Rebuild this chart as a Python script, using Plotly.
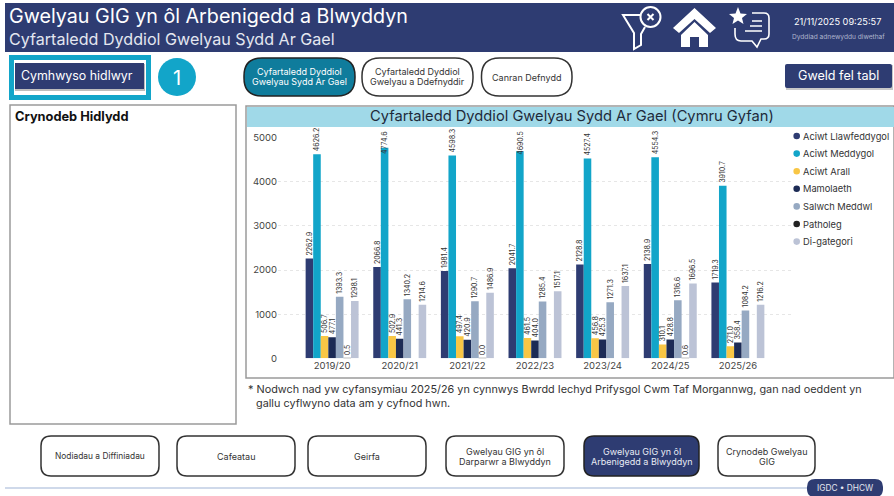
"""Gwelyau GIG yn ôl Arbenigedd a Blwyddyn - report page rebuilt in Plotly."""

import plotly.graph_objects as go

W, H = 894, 496
FONT = "Inter, Roboto, sans-serif"
NAVY = "#2E3C72"
CYAN = "#12A5C9"

YEARS = ["2019/20", "2020/21", "2021/22", "2022/23", "2023/24", "2024/25", "2025/26"]
Y_TICKS = [0, 1000, 2000, 3000, 4000, 5000]

SERIES_NAMES = [
    "Aciwt Llawfeddygol",
    "Aciwt Meddygol",
    "Aciwt Arall",
    "Mamolaeth",
    "Salwch Meddwl",
    "Patholeg",
    "Di-gategori",
]
SERIES_COLORS = ["#2E3C72", "#12A5C9", "#F8C645", "#1C2B55", "#96A9C2", "#222222", "#BCC3D6"]

llawfeddygol = [2262.9, 2066.8, 1981.4, 2041.7, 2128.8, 2138.9, 1719.3]
meddygol = [4626.2, 4774.6, 4598.3, 4690.5, 4527.4, 4554.3, 3910.7]
arall = [506.7, 502.9, 497.4, 461.5, 456.8, 310.1, 271.0]
mamolaeth = [477.1, 441.3, 420.9, 404.0, 425.3, 428.8, 358.4]
salwch_meddwl = [1393.3, 1340.2, 1290.7, 1285.4, 1271.3, 1316.6, 1084.2]
patholeg = [0.5, None, 0.0, None, None, 0.6, None]
di_gategori = [1298.1, 1214.6, 1486.9, 1517.1, 1637.1, 1696.5, 1216.2]
SERIES_VALUES = [llawfeddygol, meddygol, arall, mamolaeth, salwch_meddwl, patholeg, di_gategori]

# labels taller than this stop at the top of the plot and sit over their bar
LABEL_LIMIT = 4650
LABEL_CEILING_PX = 130

shapes = []
annotations = []


def px(x, y):
    return x / W, 1 - y / H


def rect(x0, y0, x1, y1, fill="rgba(0,0,0,0)", line=None, width=0, layer="below"):
    a, b = px(x0, y0)
    c, d = px(x1, y1)
    shapes.append(dict(type="rect", xref="paper", yref="paper", x0=a, y0=b, x1=c, y1=d,
                       fillcolor=fill, layer=layer,
                       line=dict(color=line or fill, width=width)))


def circle(cx, cy, r, fill="rgba(0,0,0,0)", line=None, width=0, layer="below"):
    a, b = px(cx - r, cy - r)
    c, d = px(cx + r, cy + r)
    shapes.append(dict(type="circle", xref="paper", yref="paper", x0=a, y0=b, x1=c, y1=d,
                       fillcolor=fill, layer=layer,
                       line=dict(color=line or fill, width=width)))


def path(cmds, fill="rgba(0,0,0,0)", line="white", width=0, layer="above"):
    # cmds: (letter, x, y, ...) in page pixels
    out = []
    for c in cmds:
        if c[0] == "Z":
            out.append("Z")
            continue
        pts = []
        for i in range(1, len(c), 2):
            a, b = px(c[i], c[i + 1])
            pts.append(f"{a:.5f},{b:.5f}")
        out.append(c[0] + " ".join(pts))
    shapes.append(dict(type="path", xref="paper", yref="paper", path=" ".join(out),
                       fillcolor=fill, layer=layer, line=dict(color=line, width=width)))


def round_rect(x0, y0, x1, y1, r, fill="white", line="#333333", width=1.5, layer="below"):
    path([("M", x0 + r, y0), ("L", x1 - r, y0), ("Q", x1, y0, x1, y0 + r),
          ("L", x1, y1 - r), ("Q", x1, y1, x1 - r, y1), ("L", x0 + r, y1),
          ("Q", x0, y1, x0, y1 - r), ("L", x0, y0 + r), ("Q", x0, y0, x0 + r, y0), ("Z",)],
         fill=fill, line=line, width=width, layer=layer)


def text(x, y, s, size=10, color="#333333", anchor="center", family=FONT):
    a, b = px(x, y)
    annotations.append(dict(xref="paper", yref="paper", x=a, y=b, text=s, showarrow=False,
                            xanchor=anchor, yanchor="middle", align=anchor,
                            borderpad=0, font=dict(family=family, size=size, color=color)))


# header band
rect(5, 3, W, 52, fill=NAVY)
text(8, 16, "Gwelyau GIG yn ôl Arbenigedd a Blwyddyn", size=19.7, color="white", anchor="left")
text(8, 39, "Cyfartaledd Dyddiol Gwelyau Sydd Ar Gael", size=16.1, color="#E4E7F0", anchor="left")
text(837, 21, "21/11/2025 09:25:57", size=9.2, color="white")
text(838, 37, "Dyddiad adnewyddu diwethaf", size=6.6, color="#AEB6CE")

# filter icon
path([("M", 641, 15), ("L", 623, 15), ("L", 634, 33), ("L", 634, 49), ("L", 641, 45), ("L", 641, 34), ("L", 645, 27)],
     width=2)
circle(650.5, 17, 10, line="white", width=2, layer="above")
path([("M", 647.5, 14), ("L", 653.5, 20), ("M", 653.5, 14), ("L", 647.5, 20)], width=2)
# home icon
path([("M", 673, 28), ("L", 694.5, 8), ("L", 716, 28), ("L", 710, 33), ("L", 694.5, 19), ("L", 679, 33), ("Z",)],
     fill="white")
path([("M", 681, 35), ("L", 694.5, 22), ("L", 708, 35), ("L", 708, 47), ("L", 699, 47), ("L", 699, 37),
      ("L", 690, 37), ("L", 690, 47), ("L", 681, 47), ("Z",)], fill="white")
# feedback icon
path([("M", 738, 7), ("L", 740.5, 13.5), ("L", 747, 14), ("L", 742, 18), ("L", 743.5, 24), ("L", 738, 20.5),
      ("L", 732.5, 24), ("L", 734, 18), ("L", 729, 14), ("L", 735.5, 13.5), ("Z",)], fill="white")
path([("M", 752, 13), ("L", 764, 13), ("Q", 769, 13, 769, 18), ("L", 769, 34), ("Q", 769, 39, 764, 39),
      ("L", 761, 39), ("L", 757, 47), ("L", 752, 41), ("L", 741, 41), ("Q", 735, 41, 735, 34), ("L", 735, 28)],
     width=1.6)
path([("M", 752, 21), ("L", 762, 21), ("M", 750, 26), ("L", 762, 26), ("M", 745, 31), ("L", 762, 31)], width=1.6)

# apply filters button and step marker
rect(9, 55, 151, 100, fill=CYAN)
rect(14, 60, 146, 95, fill="white")
rect(15, 64, 145, 91, fill="#BDBDBD")
rect(15, 63, 144, 89, fill=NAVY)
text(77, 76, "Cymhwyso hidlwyr", size=12.4, color="white")
circle(177, 77, 19, fill=CYAN)
text(177, 77.5, "1", size=20, color="white")

# measure selector pills
round_rect(244, 58, 355, 96, 18, fill="#0F7C9C", line="#222222")
text(299.5, 71.5, "Cyfartaledd Dyddiol", size=9, color="white")
text(299.5, 82, "Gwelyau Sydd Ar Gael", size=9, color="white")
round_rect(362, 58, 473, 96, 18)
text(417.5, 71.5, "Cyfartaledd Dyddiol", size=9)
text(417.5, 82, "Gwelyau a Ddefnyddir", size=9)
round_rect(481.5, 58, 572, 96, 18)
text(526.5, 77, "Canran Defnydd", size=9)

# table view button
rect(786, 65, 893, 90, fill="#C8C8C8")
round_rect(785, 64, 892, 88, 2, fill=NAVY, line=NAVY, width=0)
text(838.5, 76, "Gweld fel tabl", size=12.6, color="white")

# filter summary panel
rect(10, 105, 236, 424, fill="white", line="#9A9A9A", width=1.5)
text(14, 116, "<b>Crynodeb Hidlydd</b>", size=12.8, color="#111111", anchor="left")

# chart panel
rect(246, 106, 894, 378, fill="white", line="#9A9A9A", width=1.5)
rect(247, 107, 894, 127, fill="#A0D9E8")
text(572, 115.5, "Cyfartaledd Dyddiol Gwelyau Sydd Ar Gael (Cymru Gyfan)", size=14.7, color="#1E2A3A")

# legend
for i, (name, color) in enumerate(zip(SERIES_NAMES, SERIES_COLORS)):
    row_y = 136 + i * 17.6
    circle(796.7, row_y, 3.3, fill=color)
    text(802, row_y, name, size=9.3, color="#333333", anchor="left")

# footnote
text(247, 389, "* Nodwch nad yw cyfansymiau 2025/26 yn cynnwys Bwrdd Iechyd Prifysgol Cwm Taf Morgannwg, gan nad oeddent yn",
     size=10.85, anchor="left")
text(255, 403, "gallu cyflwyno data am y cyfnod hwn.", size=10.85, anchor="left")

# page navigation buttons
round_rect(41, 436, 159, 476, 10)
text(100, 456, "Nodiadau a Diffiniadau", size=8.4)
round_rect(177, 436, 295, 476, 10)
text(236, 456, "Cafeatau", size=9)
round_rect(308, 436, 426, 476, 10)
text(367, 456, "Geirfa", size=9)
round_rect(446, 436, 564, 476, 10)
text(505, 451, "Gwelyau GIG yn ôl", size=9)
text(505, 461, "Darparwr a Blwyddyn", size=9)
round_rect(584, 436, 699, 476, 10, fill=NAVY, line="#222222")
text(641.5, 451, "Gwelyau GIG yn ôl", size=9, color="#E8EBF4")
text(641.5, 461, "Arbenigedd a Blwyddyn", size=9, color="#E8EBF4")
round_rect(718, 436, 815, 476, 10)
text(766.5, 451, "Crynodeb Gwelyau", size=9)
text(766.5, 461, "GIG", size=9)

# footer rule and badge
rect(5, 487, 810, 489, fill="#CFD9EA")
round_rect(807, 479, 883, 497, 8, fill=NAVY, line=NAVY, width=0)
text(845, 488, "IGDC • DHCW", size=8.3, color="#E4E7F0")

fig = go.Figure()
for s, (name, values, color) in enumerate(zip(SERIES_NAMES, SERIES_VALUES, SERIES_COLORS)):
    labels = []
    for year, v in zip(YEARS, values):
        if v is None:
            labels.append("")
        elif v > LABEL_LIMIT:
            labels.append("")
            # bar width in pixels is 67.67 * (1 - bargap) / 7
            annotations.append(dict(
                x=year, y=px(0, LABEL_CEILING_PX)[1], xref="x", yref="paper", text=f"{v:.1f}",
                xshift=(s - 3) * 7.57, yanchor="top", textangle=-90, showarrow=False,
                borderpad=0, font=dict(family=FONT, size=7, color="#333333"),
            ))
        else:
            labels.append(f"{v:.1f}")
    fig.add_trace(go.Bar(
        x=YEARS,
        y=values,
        name=name,
        marker=dict(color=color, line=dict(color="#A8A8A8", width=1 if name == "Patholeg" else 0)),
        text=labels,
        textposition="outside",
        textangle=-90,
        constraintext="none",
        cliponaxis=False,
        textfont=dict(family=FONT, size=7, color="#333333"),
    ))

fig.update_layout(
    width=W,
    height=H,
    margin=dict(l=0, r=0, t=0, b=0),
    paper_bgcolor="white",
    plot_bgcolor="rgba(0,0,0,0)",
    barmode="group",
    bargap=0.217,
    bargroupgap=0,
    showlegend=False,
    shapes=shapes,
    annotations=annotations,
    xaxis=dict(
        domain=[278 / W, 792 / W],
        range=[-0.8, 6.8],
        type="category",
        automargin=False,
        showgrid=False,
        zeroline=False,
        showline=False,
        ticks="",
        tickfont=dict(family=FONT, size=9.5, color="#444444"),
    ),
    yaxis=dict(
        domain=[1 - 358.3 / H, 1 - 137.7 / H],
        range=[0, 5000],
        tickvals=Y_TICKS,
        automargin=False,
        showgrid=True,
        gridcolor="#E6E6E6",
        griddash="dot",
        gridwidth=1,
        zeroline=False,
        ticks="",
        tickfont=dict(family=FONT, size=9.5, color="#444444"),
    ),
)

fig.write_html(
    "out.html",
    config={"displayModeBar": False},
    post_script="document.body.style.margin='0';document.body.style.overflow='hidden';",
)
